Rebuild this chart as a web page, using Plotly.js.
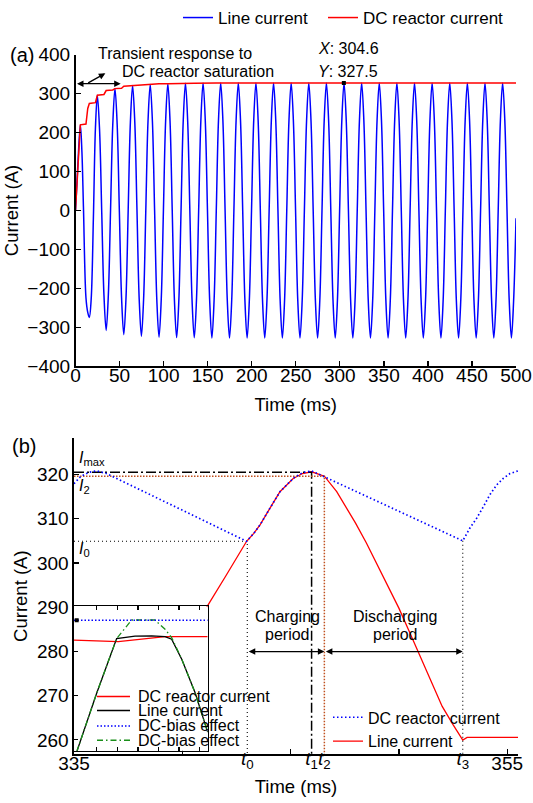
<!DOCTYPE html>
<html><head><meta charset="utf-8">
<script src="https://cdn.plot.ly/plotly-3.0.1.min.js"></script>
<style>html,body{margin:0;padding:0;background:#fff;}#chart{width:533px;height:803px;}</style>
</head><body><div id="chart"></div>
<script>
// ---------------- Panel (a) data ----------------
const timeA = [
 0,2.5,5.5,7.3,9.0,11.9,13.9,15.7,17.8,20.3,22.6,
 24.8,27.3,29.8,32.3,34.8,37.3,39.8,42.3,
 44.8,47.3,49.8,52.3,54.8,57.3,59.8,62.3,
 64.8,67.3,69.8,72.3,74.8,77.3,79.8,82.3,
 84.8,87.3,89.8,92.3,94.8,97.3,99.8,102.3,
 104.8,107.3,109.8,112.3,114.8,117.3,119.8,122.3,
 124.8,127.3,129.8,132.3,134.8,137.3,139.8,142.3,
 144.8,147.3,149.8,152.3,154.8,157.3,159.8,162.3,
 164.8,167.3,169.8,172.3,174.8,177.3,179.8,182.3,
 184.8,187.3,189.8,192.3,194.8,197.3,199.8,202.3,
 204.8,207.3,209.8,212.3,214.8,217.3,219.8,222.3,
 224.8,227.3,229.8,232.3,234.8,237.3,239.8,242.3,
 244.8,247.3,249.8,252.3,254.8,257.3,259.8,262.3,
 264.8,267.3,269.8,272.3,274.8,277.3,279.8,282.3,
 284.8,287.3,289.8,292.3,294.8,297.3,299.8,302.3,
 304.8,307.3,309.8,312.3,314.8,317.3,319.8,322.3,
 324.8,327.3,329.8,332.3,334.8,337.3,339.8,342.3,
 344.8,347.3,349.8,352.3,354.8,357.3,359.8,362.3,
 364.8,367.3,369.8,372.3,374.8,377.3,379.8,382.3,
 384.8,387.3,389.8,392.3,394.8,397.3,399.8,402.3,
 404.8,407.3,409.8,412.3,414.8,417.3,419.8,422.3,
 424.8,427.3,429.8,432.3,434.8,437.3,439.8,442.3,
 444.8,447.3,449.8,452.3,454.8,457.3,459.8,462.3,
 464.8,467.3,469.8,472.3,474.8,477.3,479.8,482.3,
 484.8,487.3,489.8,492.3,494.8,497.3,500
];
const lineCurrentA = [
 0,110,220,150,10,-225,-262,-275,-228,-20,210,
 296,208,-6,-218,-308,-216,2,220,
 313,221,-3,-225,-319,-226,0,227,
 321,227,-1,-228,-323,-228,0,229,
 323.6,229,-1,-230,-325.5,-230,0,230,
 325.8,230,0,-231,-326.5,-231,0,231,
 326.7,231,0,-231,-327,-231,0,231.5,
 327.5,231.5,0,-231.5,-327.5,-231.5,0,231.5,
 327.5,231.5,0,-231.5,-327.5,-231.5,0,231.5,
 327.5,231.5,0,-231.5,-327.5,-231.5,0,231.5,
 327.5,231.5,0,-231.5,-327.5,-231.5,0,231.5,
 327.5,231.5,0,-231.5,-327.5,-231.5,0,231.5,
 327.5,231.5,0,-231.5,-327.5,-231.5,0,231.5,
 327.5,231.5,0,-231.5,-327.5,-231.5,0,231.5,
 327.5,231.5,0,-231.5,-327.5,-231.5,0,231.5,
 327.5,231.5,0,-231.5,-327.5,-231.5,0,231.5,
 327.5,231.5,0,-231.5,-327.5,-231.5,0,231.5,
 327.5,231.5,0,-231.5,-327.5,-231.5,0,231.5,
 327.5,231.5,0,-231.5,-327.5,-231.5,0,231.5,
 327.5,231.5,0,-231.5,-327.5,-231.5,0,231.5,
 327.5,231.5,0,-231.5,-327.5,-231.5,0,231.5,
 327.5,231.5,0,-231.5,-327.5,-231.5,0,231.5,
 327.5,231.5,0,-231.5,-327.5,-231.5,0,231.5,
 327.5,231.5,0,-231.5,-327.5,-231.5,0,231.5,
 327.5,231.5,0,-231.5,-327.5,-231.5,-20
];
const reactorTimeA = [0,5.5,11.9,13.9,15.7,22.6,24.8,32.3,34.8,42.3,44.8,52.3,54.8,64.8,74.8,84.8,94.8,104.8,114.8,124.8,134.8,160,200,500];
const reactorCurrentA = [0,220,222,262,275,277,296,298,308,309.5,313,314,319,321,323,323.8,325.5,325.8,326.5,326.7,327,327.3,327.5,327.5];
const tipX = [304.6];
const tipY = [327.5];
const xTicksA = [0,50,100,150,200,250,300,350,400,450,500];
const yTicksA = [-400,-300,-200,-100,0,100,200,300,400];
const xRangeA = [0,500];
const yRangeA = [-400,400];

// ---------------- Panel (b) data ----------------
const lineTimeB = [339.5,341.1,342.0,342.5,342.97,343.3,343.59,344.05,344.51,345.12,345.55,345.97,346.56,347.13,347.6,348.0,348.5,349.0,349.5,350.0,350.5,351.0,351.5,352.0,352.5,352.95,353.15,355.5];
const lineCurrentB = [278.0,289.8,297.0,301.0,304.9,306.7,308.6,312.4,316.1,319.1,320.2,320.6,319.6,316.1,312.4,309.0,304.5,299.5,294.5,289.8,284.3,278.8,273.4,267.6,263.5,260.0,260.6,260.6];
const reactorTimeB = [335.0,335.3,335.7,336.05,336.5,342.97,343.3,343.59,344.05,344.51,345.12,345.55,345.97,352.95,353.28,353.59,353.9,354.2,354.51,354.82,355.13,355.5];
const reactorCurrentB = [317.9,319.5,320.5,320.8,320.2,304.9,306.7,308.6,312.4,316.1,319.1,320.4,320.8,305.0,307.9,310.1,312.7,315.4,317.6,319.1,320.2,320.8];
const tMarks = [343.0,345.97,346.56,352.95];          // t0, t1, t2, t3
const tLabels = ['<i>t</i><sub>0</sub>','<i>t</i><sub>1</sub>','<i>t</i><sub>2</sub>','<i>t</i><sub>3</sub>'];
const iLevels = [304.9,320.5,319.6,305.0];           // I0, Imax, I2, level at t3
const iLabels = ['<i>I</i><sub>0</sub>','<i>I</i><sub>max</sub>','<i>I</i><sub>2</sub>'];
const xTicksB = [335,355];
const xMinorTicksB = [340,345,350];
const yTicksB = [260,270,280,290,300,310,320];
const xRangeB = [335,355.5];
const yRangeB = [256.8,328.2];
const periodLabels = [['Charging','period'],['Discharging','period']];

// ---------------- Inset data ----------------
const insetReactorX = [-0.1,2.05,4.32,6.39];
const insetReactorY = [2.249,2.217,2.33,2.33];
const insetLineX = [0.03,1.0,1.97,2.86,3.67,4.32,4.64,5.13,5.77,6.39];
const insetLineY = [-0.277,1.05,2.285,2.34,2.345,2.33,2.27,1.82,1.07,0.172];
const insetBiasDCX = [-0.1,6.39];
const insetBiasDCY = [2.70,2.70];
const insetBiasACX = [0.03,1.0,1.97,2.70,3.83,4.32,4.64,5.13,5.77,6.39];
const insetBiasACY = [-0.277,1.05,2.285,2.705,2.705,2.496,2.307,1.82,1.07,0.172];
const insetTipX = [0.03];
const insetTipY = [2.70];
const insetXTicks = [1,2,3,4,5,6];
const insetYTicks = [0,1,2,3];
const insetXRange = [-0.1,6.39];
const insetYRange = [-0.25,3.01];
const insetLegendNames = ['DC reactor current','Line current','DC-bias effect','DC-bias effect'];

// ---------------- Build ----------------
const F = 'Liberation Sans, Arial, sans-serif';
const W = 533, H = 803;
const px = v => v / W;
const py = v => 1 - v / H;

const RED = '#ff0000', BLUE = '#0000ff', BROWN = '#c0501f', GREEN = '#1a8f1a';
const traces = [];

// panel (a)
traces.push({x: timeA, y: lineCurrentA, xaxis: 'x', yaxis: 'y', type: 'scatter', mode: 'lines',
  name: 'Line current', legend: 'legend', line: {color: BLUE, width: 1.5, shape: 'spline'}});
traces.push({x: reactorTimeA, y: reactorCurrentA, xaxis: 'x', yaxis: 'y', type: 'scatter', mode: 'lines',
  name: 'DC reactor current', legend: 'legend3', line: {color: RED, width: 1.5}});
traces.push({x: tipX, y: tipY, xaxis: 'x', yaxis: 'y', type: 'scatter', mode: 'markers', showlegend: false,
  marker: {symbol: 'square', size: 4, color: '#000'}});

// panel (b) curves
const [t0, t1, t2, t3] = tMarks;
const [I0, Imax, I2, I3] = iLevels;
const yFloor = yRangeB[0], xStart = xRangeB[0];
traces.push({x: lineTimeB, y: lineCurrentB, xaxis: 'x2', yaxis: 'y2', mode: 'lines', name: 'Line current',
  legend: 'legend2', legendrank: 2, line: {color: RED, width: 1.3}});
// reference lines (on the overlaying axis that carries the t labels)
traces.push({x: [xStart, t1, t1], y: [Imax, Imax, yFloor], xaxis: 'x4', yaxis: 'y2', mode: 'lines', showlegend: false,
  line: {color: '#000', width: 1.5, dash: '10px,3px,2px,3px'}});
traces.push({x: [xStart, t2, t2], y: [I2, I2, yFloor], xaxis: 'x4', yaxis: 'y2', mode: 'lines', showlegend: false,
  line: {color: BROWN, width: 1.5, dash: '1.5px,1.5px'}});
traces.push({x: [xStart, t0, t0], y: [I0, I0, yFloor], xaxis: 'x4', yaxis: 'y2', mode: 'lines', showlegend: false,
  line: {color: '#000', width: 1.1, dash: '1px,3px'}});
traces.push({x: [t3, t3], y: [I3, yFloor], xaxis: 'x4', yaxis: 'y2', mode: 'lines', showlegend: false,
  line: {color: '#000', width: 1.1, dash: '1px,3px'}});
traces.push({x: reactorTimeB, y: reactorCurrentB, xaxis: 'x4', yaxis: 'y2', mode: 'lines', name: 'DC reactor current',
  legend: 'legend2', legendrank: 1, line: {color: BLUE, width: 1.7, dash: '1.5px,2.5px'}});

// inset
traces.push({x: insetReactorX, y: insetReactorY, xaxis: 'x3', yaxis: 'y3', mode: 'lines', showlegend: false,
  name: insetLegendNames[0], line: {color: RED, width: 1.3}});
traces.push({x: insetLineX, y: insetLineY, xaxis: 'x3', yaxis: 'y3', mode: 'lines', showlegend: false,
  name: insetLegendNames[1], line: {color: '#000', width: 1.3}});
traces.push({x: insetBiasACX, y: insetBiasACY, xaxis: 'x3', yaxis: 'y3', mode: 'lines', showlegend: false,
  name: insetLegendNames[3], line: {color: GREEN, width: 1.3, dash: '6px,3px,1.5px,3px'}});
traces.push({x: insetBiasDCX, y: insetBiasDCY, xaxis: 'x3', yaxis: 'y3', mode: 'lines', showlegend: false,
  name: insetLegendNames[2], line: {color: BLUE, width: 1.5, dash: '1.5px,2px'}});
traces.push({x: insetTipX, y: insetTipY, xaxis: 'x3', yaxis: 'y3', mode: 'markers', showlegend: false,
  marker: {symbol: 'square', size: 4, color: '#000'}});

const axisBase = {showline: true, linecolor: '#000', linewidth: 1.6, ticks: 'inside', ticklen: 5,
  tickwidth: 1.3, tickcolor: '#000', showgrid: false, zeroline: false, automargin: false,
  tickfont: {size: 19, family: F, color: '#000'}, tickangle: 0};

const annotations = [];
const txt = (text, x, y, opts) => Object.assign({text, x: px(x), y: py(y), xref: 'paper', yref: 'paper',
  showarrow: false, xanchor: 'center', yanchor: 'middle', font: {size: 16, family: F, color: '#000'}}, opts || {});
const arrowStyle = {text: '', showarrow: true, arrowhead: 2, arrowsize: 1, arrowwidth: 1.3, arrowcolor: '#000'};
const dblArrow = {arrowside: 'end+start', startarrowhead: 2, startarrowsize: 1};

// panel (a) annotations
annotations.push(txt('(a)', 22, 51, {font: {size: 20, family: F, color: '#000'}}));
annotations.push(txt('Transient response to', 175, 50));
annotations.push(txt('DC reactor saturation', 198, 68));
annotations.push(txt('<i>X</i>: ' + tipX[0].toFixed(1), 316, 45, {xanchor: 'left'}));
annotations.push(txt('<i>Y</i>: ' + tipY[0].toFixed(1), 316, 68, {xanchor: 'left'}));
annotations.push(Object.assign({x: 51.3, y: 325.8, ax: 0, ay: 325.8, xref: 'x', yref: 'y', axref: 'x', ayref: 'y'},
  arrowStyle, dblArrow));
annotations.push(Object.assign({x: 33.9, y: 352.2, ax: 12.7, ay: 325.8, xref: 'x', yref: 'y', axref: 'x', ayref: 'y'},
  arrowStyle));

// panel (b) annotations
annotations.push(txt('(b)', 24, 444, {font: {size: 20, family: F, color: '#000'}}));
annotations.push(txt(iLabels[1], 77, 457, {xanchor: 'left'}));
annotations.push(txt(iLabels[2], 77, 485, {xanchor: 'left'}));
annotations.push(txt(iLabels[0], 77, 548, {xanchor: 'left'}));
annotations.push(txt(periodLabels[0][0], 287, 615.5));
annotations.push(txt(periodLabels[0][1], 287, 634));
annotations.push(txt(periodLabels[1][0], 395, 615.5));
annotations.push(txt(periodLabels[1][1], 395, 634));
const arrowLevel = 280;
annotations.push(Object.assign({x: t2, y: arrowLevel, ax: t0, ay: arrowLevel, xref: 'x2', yref: 'y2', axref: 'x2', ayref: 'y2'},
  arrowStyle, dblArrow));
annotations.push(Object.assign({x: t3, y: arrowLevel, ax: t2, ay: arrowLevel, xref: 'x2', yref: 'y2', axref: 'x2', ayref: 'y2'},
  arrowStyle, dblArrow));

// inset legend (custom, tight rows as in the reference)
const insetLegendRows = [696, 710, 725.5, 740];
const insetLegendStyles = [
  {color: RED, width: 1.5, dash: 'solid'},
  {color: '#000', width: 1.5, dash: 'solid'},
  {color: BLUE, width: 1.5, dash: '1.5px,2px'},
  {color: GREEN, width: 1.5, dash: '6px,3px,1.5px,3px'}
];
const shapes = [];
insetLegendNames.forEach((name, i) => {
  shapes.push({type: 'line', xref: 'paper', yref: 'paper', x0: px(97), x1: px(130),
    y0: py(insetLegendRows[i]), y1: py(insetLegendRows[i]), line: insetLegendStyles[i]});
  annotations.push(txt(name, 136, insetLegendRows[i], {xanchor: 'left'}));
});

const legendBase = {font: {size: 16, family: F, color: '#000'}, bgcolor: 'rgba(0,0,0,0)', borderwidth: 0};
const layout = {
  width: W, height: H, margin: {l: 0, r: 0, t: 0, b: 0},
  paper_bgcolor: '#fff', plot_bgcolor: '#fff',
  font: {family: F, size: 16, color: '#000'},
  showlegend: true,
  xaxis: Object.assign({}, axisBase, {domain: [px(75.5), px(516)], range: xRangeA, anchor: 'y', tickvals: xTicksA,
    ticklabelstandoff: -9, title: {text: 'Time (ms)', font: {size: 18.5, family: F}, standoff: 13}}),
  yaxis: Object.assign({}, axisBase, {domain: [py(364), py(51)], range: yRangeA, anchor: 'x', tickvals: yTicksA,
    title: {text: 'Current (A)', font: {size: 18.5, family: F}, standoff: 4}}),
  xaxis2: Object.assign({}, axisBase, {domain: [px(74), px(518)], range: xRangeB, anchor: 'y2', tickvals: xTicksB,
    minor: {tickvals: xMinorTicksB, ticks: 'inside', ticklen: 5, tickwidth: 1.3, tickcolor: '#000', showgrid: false},
    ticklabelstandoff: -9, title: {text: 'Time (ms)', font: {size: 18.5, family: F}, standoff: 7}}),
  yaxis2: Object.assign({}, axisBase, {domain: [py(754), py(436.3)], range: yRangeB, anchor: 'x2', tickvals: yTicksB,
    title: {text: 'Current (A)', font: {size: 18.5, family: F}, standoff: 4}}),
  xaxis4: Object.assign({}, axisBase, {overlaying: 'x2', anchor: 'y2', range: xRangeB, tickvals: tMarks,
    ticktext: tLabels, ticks: '', showline: false, ticklabelstandoff: -9}),
  xaxis3: Object.assign({}, axisBase, {domain: [px(74), px(207.7)], range: insetXRange, anchor: 'y3',
    tickvals: insetXTicks, showticklabels: false, mirror: 'ticks', ticklen: 4}),
  yaxis3: Object.assign({}, axisBase, {domain: [py(750.5), py(605.5)], range: insetYRange, anchor: 'x3',
    tickvals: insetYTicks, showticklabels: false, mirror: true, ticklen: 4}),
  legend: Object.assign({}, legendBase, {orientation: 'h', x: px(178), y: py(14), xanchor: 'left', yanchor: 'middle',
    font: {size: 17, family: F, color: '#000'}}),
  legend3: Object.assign({}, legendBase, {orientation: 'h', x: px(323), y: py(14), xanchor: 'left', yanchor: 'middle',
    font: {size: 17, family: F, color: '#000'}}),
  legend2: Object.assign({}, legendBase, {orientation: 'v', x: px(328), y: py(729), xanchor: 'left', yanchor: 'middle',
    tracegroupgap: 0}),
  annotations, shapes
};

Plotly.newPlot('chart', traces, layout, {displayModeBar: false, staticPlot: true});
</script>
</body></html>
